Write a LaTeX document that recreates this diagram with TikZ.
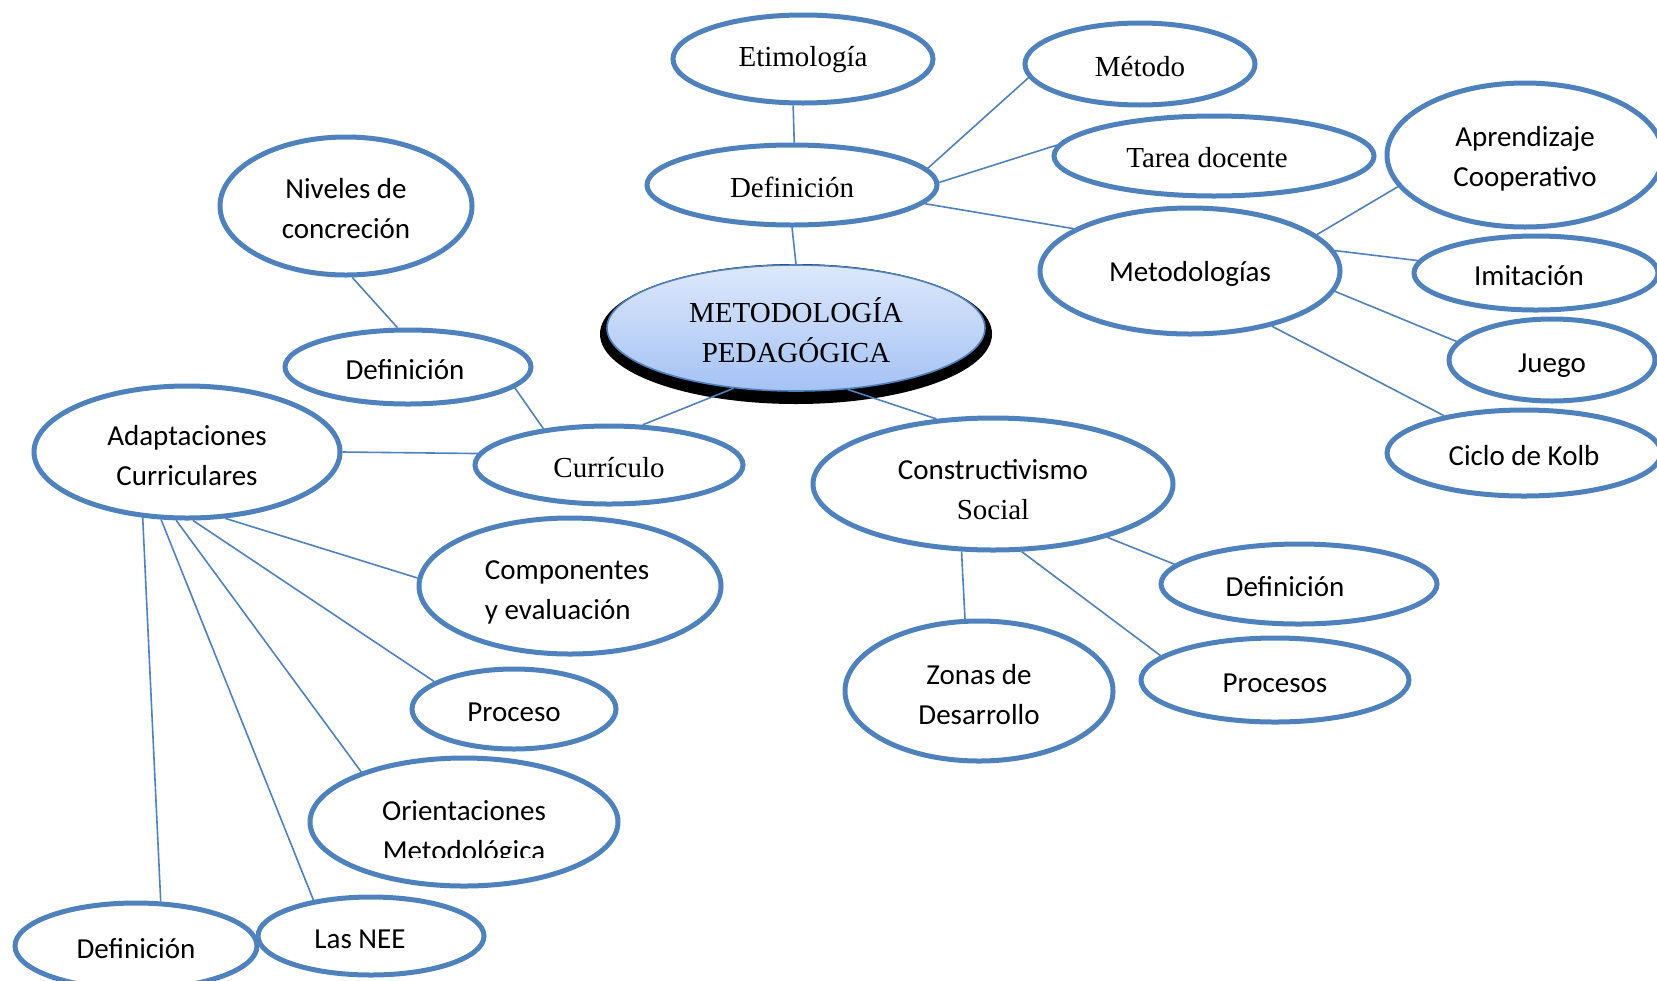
\documentclass[tikz,border=0pt]{standalone}
\usepackage{fontspec}
\setmainfont{Liberation Serif}
\newfontfamily\calfont{Carlito}
\usetikzlibrary{shapes.geometric}
\definecolor{obl}{HTML}{4F81BD}
\definecolor{ctop}{HTML}{DDE8FB}
\definecolor{cbot}{HTML}{A4C2F4}
\newcommand\duo[2]{\begin{tabular}[t]{@{}c@{}}#1\\#2\end{tabular}}
\newcommand\duol[2]{\begin{tabular}[t]{@{}l@{}}#1\\#2\end{tabular}}
\tikzset{
  bub/.style={ellipse, draw=obl, line width=2.5pt, inner sep=0pt,
    text height=12pt, text depth=0pt,
    font=\calfont\fontsize{14.5}{20}\selectfont},
  sbub/.style={bub, font=\fontsize{14.5}{20}\selectfont},
  two/.style={text height=0pt, text depth=#1},
  two/.default=7pt,
  sz/.style 2 args={minimum width=#1pt, minimum height=#2pt},
  link/.style={draw=obl, line width=0.8pt},
  plain/.style={inner sep=0pt, font=\calfont\fontsize{14.5}{20}\selectfont},
}
\begin{document}
\begin{tikzpicture}[x=0.5pt,y=-0.5pt]
\useasboundingbox (0,0) rectangle (1657,980);
\clip (0,0) rectangle (1657,980);

% top branch
\node[sbub, sz={130}{44}, text height=7pt] (etim) at (803,59) {Etimología};
\node[sbub, sz={115}{41}] (metodo) at (1140,64) {Método};
\node[sbub, sz={145}{40}] (def1) at (792,185) {Definición};
\node[sbub, sz={160}{40}, text height=11pt] (tarea) at (1214,156) {Tarea docente\hspace*{7pt}};
\node[bub, sz={138}{72}, two=9pt] (aprend) at (1525,155) {\duo{Aprendizaje}{Cooperativo}};
\node[bub, sz={150}{63}, text height=10pt] (metods) at (1190,271) {Metodologías};
\node[bub, sz={122}{37}] (imit) at (1536,273) {Imitación\hspace*{7pt}};
\node[bub, sz={103}{41}] (juego) at (1552,360) {Juego};
\node[bub, sz={137}{43}] (kolb) at (1524,453) {Ciclo de Kolb};

% left upper
\node[bub, sz={126}{69}, two=8pt] (niveles) at (346,206) {\duo{Niveles de}{concreción}};
\node[bub, sz={123}{37}] (def2) at (408,367) {Definición\hspace*{3pt}};

% centre
\node[ellipse, fill=black, inner sep=0pt, sz={196}{70}] (mpshadow) at (796,334) {};
\node[ellipse, draw=obl, line width=0.8pt, top color=ctop, bottom color=cbot,
      inner sep=0pt, sz={189}{63}, two=5.5pt,
      font=\fontsize{14.5}{20}\selectfont] (mp) at (796,328) {\duo{METODOLOGÍA}{PEDAGÓGICA}};

% left
\node[bub, sz={153}{66}, two] (adapt) at (187,452) {\duo{Adaptaciones}{Curriculares}};
\node[sbub, sz={134}{39}] (curr) at (609,465) {Currículo};
\node[bub, sz={151}{68}, two] (comp) at (570,586) {\duol{Componentes}{y evaluación}\hspace*{3pt}};
\node[bub, sz={102}{40}] (proceso) at (514,709) {Proceso};
\node[bub, sz={154}{64}] (orient) at (464,822) {};
\begin{scope}
  \clip (300,740) rectangle (640,857);
  \node[plain, two=2pt] (orientt) at (464,822) {\duo{Orientaciones}{Metodológica}};
\end{scope}
\node[bub, sz={113}{39}] (nee) at (371,936) {Las NEE\hspace*{11pt}};
\node[bub, sz={121}{43}] (def4) at (136,946) {Definición};

% right lower
\node[bub, sz={180}{66}, two=4.5pt] (constr) at (993,484) {\duo{Constructivismo}{\rmfamily Social}};
\node[bub, sz={138}{40}] (def3) at (1299,584) {Definición\hspace*{14pt}};
\node[bub, sz={134}{42}] (procesos) at (1275,680) {Procesos};
\node[bub, sz={134}{70}, two] (zonas) at (979,691) {\duo{Zonas de}{Desarrollo}};

% connectors
\draw[link] (etim.-102.8) -- (def1.87);
\draw[link] (def1.south) -- (mp.north);
\draw[link] (def1.7.7) -- (metodo.-173.8);
\draw[link] (def1.1.2) -- (tarea.176.4);
\draw[link] (def1.-8.7) -- (metods.160);
\draw[link] (metods.16.6) -- (aprend.-166.7);
\draw[link] (metods.8.1) -- (imit.174.7);
\draw[link] (metods.-8.6) -- (juego.169.7);
\draw[link] (metods.-34.7) -- (kolb.155.7);
\draw[link] (niveles.-85) -- (def2.105.5);
\draw[link] (def2.-11.7) -- (curr.151.7);
\draw[link] (mp.-136.3) -- (curr.50.6);
\draw[link] (mp.-50.4) -- (constr.131.8);
\draw[link] (adapt.0) -- (curr.175.2);
\draw[link] (adapt.-60.7) -- (comp.177.4);
\draw[link] (adapt.-85.7) -- (proceso.161.6);
\draw[link] (adapt.-99.8) -- (orient.154.6);
\draw[link] (adapt.-111.5) -- (nee.148.9);
\draw[link] (adapt.-124.3) -- (def4.61);
\draw[link] (constr.-115.9) -- (zonas.101);
\draw[link] (constr.-67.8) -- (procesos.168);
\draw[link] (constr.-25.1) -- (def3.171.4);
\end{tikzpicture}
\end{document}
